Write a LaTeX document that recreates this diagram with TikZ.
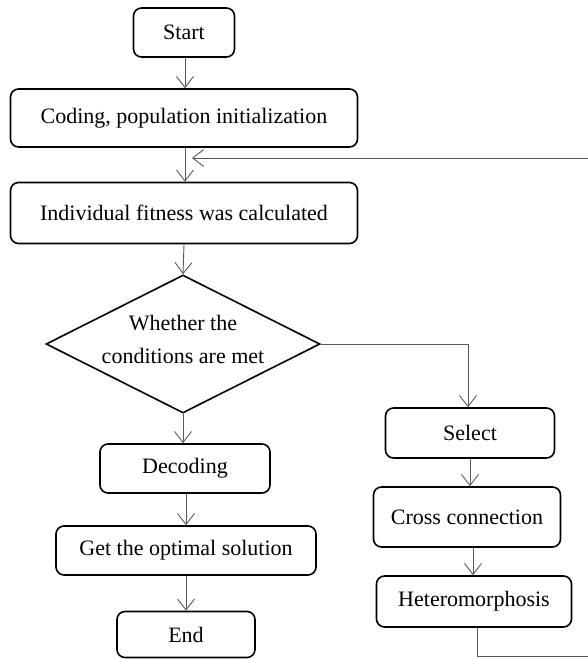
\documentclass[tikz,border=0pt]{standalone}
\usepackage{fontspec}
\setmainfont{Liberation Serif}
\usetikzlibrary{arrows.meta,shapes.geometric}
\begin{document}
\begin{tikzpicture}[x=1pt,y=-1pt,
  box/.style={draw=black,line width=1.6pt,rounded corners=8pt,font=\fontsize{22}{26}\selectfont,inner sep=0pt},
  decision/.style={draw=black,line width=1.6pt,diamond,inner sep=0pt,minimum width=274pt,minimum height=138pt},
  lbl/.style={font=\fontsize{22}{33}\selectfont,align=center,inner sep=0pt},
  flow/.style={draw=black!65,line width=0.9pt,-{Straight Barb[length=11pt,width=17pt,line width=0.9pt]}},
  link/.style={draw=black!65,line width=0.9pt}]
\useasboundingbox (0,0) rectangle (588,659);
% left column
\node[box,minimum width=101pt,minimum height=49pt] (start) at (184,32.5) {Start};
\node[box,minimum width=347pt,minimum height=58pt] (coding) at (184,118) {Coding, population initialization};
\node[box,minimum width=347pt,minimum height=61pt] (fit) at (184,213) {Individual fitness was calculated};
\node[decision] (cond) at (183,344) {};
\node[lbl] (condtext) at (183,339) {Whether the\\conditions are met};
\node[box,minimum width=170pt,minimum height=49pt] (dec) at (185,468.5) {Decoding};
\node[box,minimum width=260pt,minimum height=49pt] (opt) at (186,550.5) {Get the optimal solution};
\node[box,minimum width=138pt,minimum height=46pt] (end) at (186,634.5) {End};
% right column
\node[box,minimum width=169pt,minimum height=50pt] (sel) at (470,433) {Select};
\node[box,minimum width=187pt,minimum height=60pt] (cross) at (467,517) {Cross connection};
\node[box,minimum width=195pt,minimum height=51pt] (het) at (474,601.5) {Heteromorphosis};
% feedback coordinates
\coordinate (fbend) at (192,158);
\coordinate (fbdown) at (477,656);
\coordinate (fbright) at (588.2,656);
\coordinate (fbup) at (588.2,158);
% connectors
\draw[flow] (start.south -| 185,0) -- (coding.north -| 185,0);
\draw[flow] (coding.south -| 185,0) -- (fit.north -| 185,0);
\draw[flow] (fit.south -| 184,0) -- (cond.north);
\draw[flow] (cond.south) -- (dec.north -| cond.south);
\draw[flow] (dec.south -| 186,0) -- (opt.north -| 186,0);
\draw[flow] (opt.south -| 186,0) -- (end.north -| 186,0);
\draw[flow] (cond.east) -- (cond.east -| 468,0) -- (sel.north -| 468,0);
\draw[flow] (sel.south -| 470,0) -- (cross.north -| 470,0);
\draw[flow] (cross.south -| 473,0) -- (het.north -| 473,0);
\draw[link] (het.south -| fbdown) -- (fbdown) -- (fbright) -- (fbup);
\draw[flow] (fbup) -- (fbend);
\end{tikzpicture}
\end{document}
